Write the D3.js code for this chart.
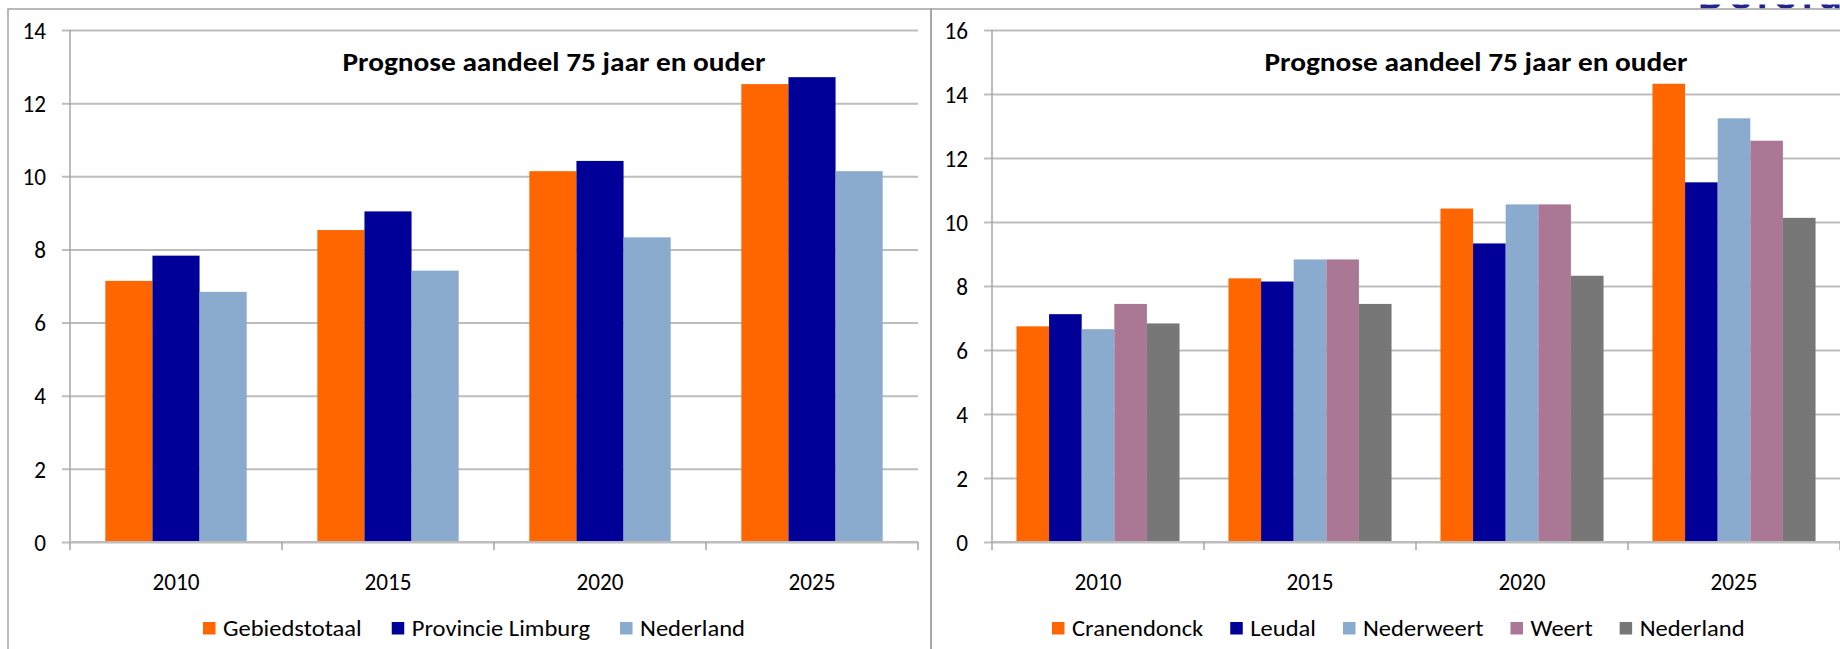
<!DOCTYPE html>
<html><head><meta charset="utf-8">
<script src="https://cdn.jsdelivr.net/npm/d3@7"></script>
<style>
body{margin:0;background:#fff;overflow:hidden;}
svg{display:block;font-family:Carlito,Calibri,Lato,sans-serif;}
</style>
</head><body>
<svg id="c" width="1840" height="649"></svg>
<script>
// ---------- data ----------
const years = ["2010", "2015", "2020", "2025"];
const title = "Prognose aandeel 75 jaar en ouder";

const leftSeries = ["Gebiedstotaal", "Provincie Limburg", "Nederland"];
const gebiedstotaal    = [7.14, 8.53, 10.14, 12.52];
const provincieLimburg = [7.83, 9.04, 10.42, 12.71];
const nederlandLeft    = [6.84, 7.42, 8.33, 10.14];
const leftTicks = [0, 2, 4, 6, 8, 10, 12, 14];

const rightSeries = ["Cranendonck", "Leudal", "Nederweert", "Weert", "Nederland"];
const cranendonck    = [6.74, 8.24, 10.42, 14.32];
const leudal         = [7.12, 8.14, 9.33, 11.24];
const nederweert     = [6.65, 8.83, 10.55, 13.24];
const weert          = [7.44, 8.83, 10.55, 12.54];
const nederlandRight = [6.83, 7.44, 8.32, 10.13];
const rightTicks = [0, 2, 4, 6, 8, 10, 12, 14, 16];

// ---------- styles ----------
const C_ORANGE = "#FF6600", C_NAVY = "#000099", C_LBLUE = "#8AABCD", C_MAUVE = "#AA7795", C_GRAY = "#777777";
const GRID = "#BDBDBD", AXIS = "#A6A6A6", FRAME = "#A3A3A3";
const AXIS_FS = 24, LEGEND_FS = 22, TITLE_FS = 27;

const svg = d3.select("#c");

function measure(str, size, weight) {
  const t = svg.append("text").attr("font-size", size).attr("font-weight", weight).text(str);
  const w = t.node().getComputedTextLength();
  t.remove();
  return w;
}
// the reference text is horizontally stretched; find the stretch per text role
const K_AXIS = 47 / measure("2010", AXIS_FS, "normal");
const K_LEGEND = 422 / (measure("Gebiedstotaal", LEGEND_FS, "normal") + measure("Provincie Limburg", LEGEND_FS, "normal") + measure("Nederland", LEGEND_FS, "normal"));
const K_TITLE = 423 / measure(title, TITLE_FS, "bold");

function stretch(sel, k) {
  sel.each(function () {
    const w = this.getComputedTextLength();
    d3.select(this).attr("textLength", w * k).attr("lengthAdjust", "spacingAndGlyphs");
  });
}

// heading of the page above, only its lowest edge shows at the top right
svg.append("clipPath").attr("id", "topclip").append("rect")
  .attr("x", 1690).attr("y", 4.5).attr("width", 150).attr("height", 4);
svg.append("text").attr("x", 1698).attr("y", 8.5).attr("font-size", 44).attr("font-weight", "bold")
  .attr("letter-spacing", 6).attr("fill", "#23238F").attr("clip-path", "url(#topclip)").text("Beleid");

function drawChart(cfg) {
  const g = svg.append("g");
  g.append("rect").attr("x", cfg.frame[0]).attr("y", cfg.frame[1]).attr("width", cfg.frame[2]).attr("height", cfg.frame[3])
    .attr("fill", "none").attr("stroke", FRAME).attr("stroke-width", 1.5);

  const x = d3.scaleBand().domain(years).range([cfg.x0, cfg.x1]).padding(0);
  const bw = x.bandwidth();
  const n = cfg.series.length;
  const gap = bw * 0.75 / (n + 1.5);
  const xs = d3.scaleBand().domain(cfg.series).range([gap, bw - gap]).padding(0);
  const y = d3.scaleLinear().domain([0, cfg.yMax]).range([cfg.yBottom, cfg.yTop]);

  const yAxis = d3.axisLeft(y).tickValues(cfg.ticks).tickSize(-(cfg.x1 - cfg.x0 + 8)).tickPadding(16);
  const ya = g.append("g").attr("transform", `translate(${cfg.x0 - 8},0)`).call(yAxis);
  ya.select(".domain").remove();
  ya.selectAll(".tick line").attr("stroke", GRID).attr("stroke-width", 2);
  ya.selectAll(".tick text").attr("font-size", AXIS_FS).attr("fill", "#000")
    .attr("font-family", "Carlito,Calibri,Lato,sans-serif").attr("dy", "0.34em");
  stretch(ya.selectAll(".tick text"), K_AXIS);

  cfg.series.forEach((s, i) => {
    g.append("g").selectAll("rect").data(cfg.values[i]).join("rect")
      .attr("x", (d, j) => x(years[j]) + xs(s))
      .attr("y", d => y(d))
      .attr("width", xs.bandwidth())
      .attr("height", d => y(0) - y(d))
      .attr("fill", cfg.colors[i]);
  });

  g.append("line").attr("x1", cfg.x0).attr("x2", cfg.x0).attr("y1", y(cfg.yMax)).attr("y2", y(0))
    .attr("stroke", AXIS).attr("stroke-width", 1.5);
  g.append("line").attr("x1", cfg.x0).attr("x2", cfg.x1).attr("y1", y(0)).attr("y2", y(0))
    .attr("stroke", GRID).attr("stroke-width", 2);

  const bounds = years.map(yr => x(yr)).concat([x(years[years.length - 1]) + bw]);
  g.append("g").selectAll("line").data(bounds).join("line")
    .attr("x1", d => d).attr("x2", d => d).attr("y1", y(0)).attr("y2", y(0) + 8)
    .attr("stroke", AXIS).attr("stroke-width", 1.5);
  const xl = g.append("g").selectAll("text").data(years).join("text")
    .attr("x", d => x(d) + bw / 2).attr("y", y(0) + 48)
    .attr("text-anchor", "middle").attr("font-size", AXIS_FS).text(d => d);
  stretch(xl, K_AXIS);

  const tt = g.append("text").attr("x", cfg.titleX).attr("y", 71).attr("text-anchor", "middle")
    .attr("font-size", TITLE_FS).attr("font-weight", "bold").text(title);
  stretch(tt, K_TITLE);

  let lx = cfg.legendX;
  cfg.series.forEach((s, i) => {
    g.append("rect").attr("x", lx).attr("y", 622).attr("width", 12.5).attr("height", 12.5).attr("fill", cfg.colors[i]);
    const t = g.append("text").attr("x", lx + 20).attr("y", 636).attr("font-size", LEGEND_FS).text(s);
    const w = t.node().getComputedTextLength() * K_LEGEND;
    stretch(t, K_LEGEND);
    lx += 20 + w + cfg.legendGap;
  });
}

drawChart({
  frame: [8, 9, 923, 660],
  x0: 70, x1: 918, yTop: 30, yBottom: 542, yMax: 14, ticks: leftTicks,
  series: leftSeries, values: [gebiedstotaal, provincieLimburg, nederlandLeft],
  colors: [C_ORANGE, C_NAVY, C_LBLUE],
  titleX: 554, legendX: 203, legendGap: 30
});

drawChart({
  frame: [931, 9, 940, 660],
  x0: 992, x1: 1840, yTop: 30, yBottom: 542, yMax: 16, ticks: rightTicks,
  series: rightSeries, values: [cranendonck, leudal, nederweert, weert, nederlandRight],
  colors: [C_ORANGE, C_NAVY, C_LBLUE, C_MAUVE, C_GRAY],
  titleX: 1476, legendX: 1052, legendGap: 27
});
</script>
</body></html>
